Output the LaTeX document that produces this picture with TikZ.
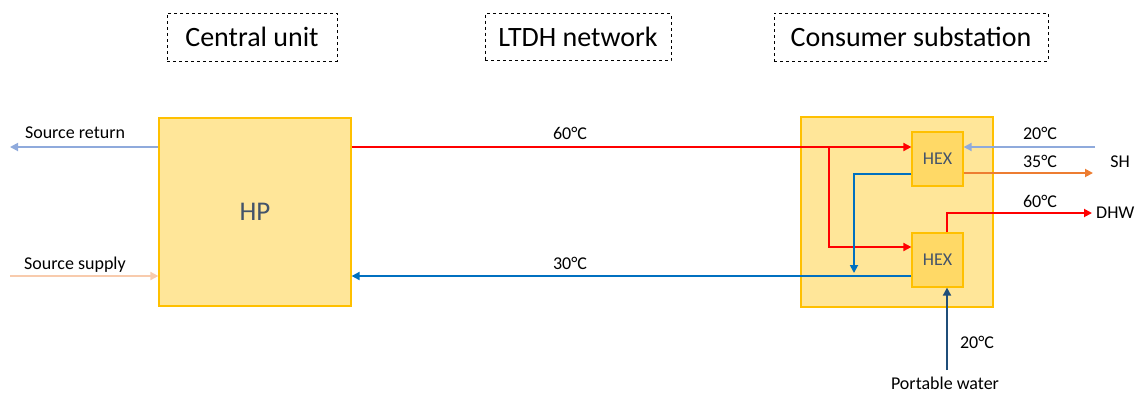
\documentclass[tikz,border=0pt]{standalone}
\usepackage{fontspec}
\setmainfont{Carlito}
\usetikzlibrary{arrows.meta}
\definecolor{boxfill}{HTML}{FFE699}
\definecolor{boxedge}{HTML}{FFC000}
\definecolor{hexfill}{HTML}{FFD966}
\definecolor{slate}{HTML}{44546A}
\definecolor{hot}{HTML}{FF0000}
\definecolor{cold}{HTML}{0070C0}
\definecolor{lblue}{HTML}{8FAADC}
\definecolor{orng}{HTML}{ED7D31}
\definecolor{lorng}{HTML}{F8CBAD}
\definecolor{dblue}{HTML}{1F4E79}
\begin{document}
\begin{tikzpicture}[x=1pt,y=-1pt,
  title/.style={draw, dashed, line width=0.8pt, font=\fontsize{28}{32}\selectfont, inner sep=0pt},
  unit/.style={draw=boxedge, fill=boxfill, line width=1.2pt, inner sep=0pt},
  hexbox/.style={draw=boxedge, fill=hexfill, line width=1.2pt, inner sep=0pt, minimum width=51pt, minimum height=54pt, text=slate, font=\fontsize{18}{20}\selectfont},
  pipe/.style={line width=1.8pt, -{Triangle[length=8pt,width=8pt]}},
  lbl/.style={font=\fontsize{18}{20}\selectfont, inner sep=0pt}
]
\useasboundingbox (0,0) rectangle (1141,392);
% titles
\node[title, minimum width=170pt, minimum height=48pt] (t1) at (252,37) {Central unit};
\node[title, minimum width=186pt, minimum height=47pt] (t2) at (578,37) {LTDH network};
\node[title, minimum width=274pt, minimum height=48pt] (t3) at (911,37) {Consumer substation};
% units
\node[unit, minimum width=192pt, minimum height=188pt, text=slate, font=\fontsize{27}{30}\selectfont] (hp) at (255,212) {HP};
\node[unit, minimum width=192pt, minimum height=190pt] (cs) at (897,212) {};
\node[hexbox] (hexA) at (937.5,159) {HEX};
\node[hexbox] (hexB) at (937.5,260) {HEX};
% coordinates
\coordinate (srcret) at (10,147);
\coordinate (srcsup) at (10,276);
\coordinate (split) at (829,147);
\coordinate (splitdown) at (829,247);
\coordinate (rA) at (854,174);
\coordinate (rB) at (854,273);
\coordinate (shin) at (1095,147);
\coordinate (shout) at (1093,173);
\coordinate (dhwup) at (947,213);
\coordinate (dhwout) at (1092,213);
\coordinate (pw) at (947,370);
% source
\draw[pipe, lblue] (hp.west |- srcret) -- (srcret);
\draw[pipe, lorng] (srcsup) -- (hp.west |- srcsup);
\node[lbl, anchor=base] (l1) at (75,138) {Source return};
\node[lbl, anchor=base] (l2) at (75,269) {Source supply};
% supply line
\draw[pipe, hot] (hp.east |- split) -- (hexA.west |- split);
\draw[pipe, hot] (split) -- (splitdown) -- (hexB.west |- splitdown);
\node[lbl, anchor=base] (l3) at (570,139) {60°C};
% return line
\draw[pipe, cold] (hexA.west |- rA) -- (rA) -- (rB);
\draw[pipe, cold] (hexB.west |- 0,276) -- (hp.east |- 0,276);
\node[lbl, anchor=base] (l4) at (570,269) {30°C};
% SH
\draw[pipe, lblue] (shin) -- (hexA.east |- shin);
\draw[pipe, orng] (hexA.east |- shout) -- (shout);
\node[lbl, anchor=base] (l5) at (1040,139) {20°C};
\node[lbl, anchor=base] (l6) at (1040,167) {35°C};
\node[lbl, anchor=base] (l7) at (1120,167) {SH};
% DHW
\draw[pipe, hot] (hexB.north -| dhwup) -- (dhwup) -- (dhwout);
\node[lbl, anchor=base] (l8) at (1040,207) {60°C};
\node[lbl, anchor=west] (l9) at (1096,213) {DHW};
% portable water
\draw[pipe, dblue] (pw) -- (hexB.south -| pw);
\node[lbl, anchor=base] (l10) at (977,348) {20°C};
\node[lbl, anchor=base] (l11) at (945,389) {Portable water};
\end{tikzpicture}
\end{document}
